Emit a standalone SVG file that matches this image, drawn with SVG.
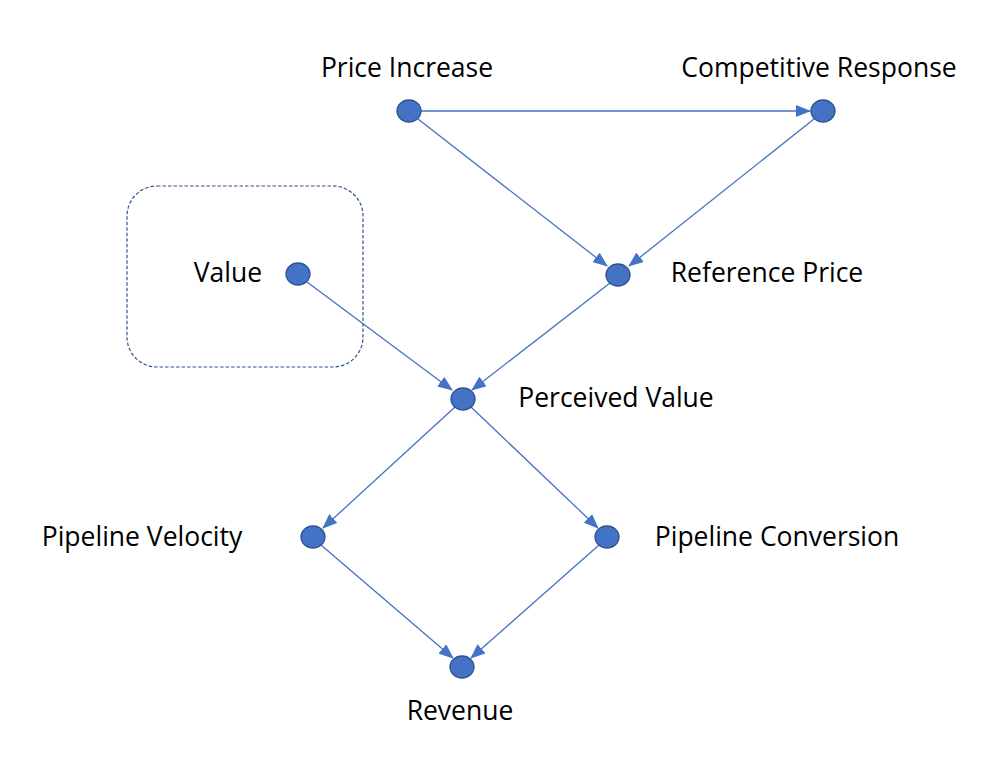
<svg xmlns="http://www.w3.org/2000/svg" width="1004" height="768" viewBox="0 0 1004 768">
<style>
.node{fill:#4472C4;stroke:#2F528F;stroke-width:1.3}
.lbl{font-family:"Open Sans","Liberation Sans",sans-serif;font-size:26.5px;fill:#000;text-anchor:middle}
.edge{stroke:#4472C4;stroke-width:1.3;fill:none;marker-end:url(#arr)}
</style>
<defs>
<marker id="arr" markerUnits="userSpaceOnUse" markerWidth="15" markerHeight="12" viewBox="0 0 15 12" refX="14" refY="6" orient="auto">
<path d="M0,0 L15,6 L0,12 Z" fill="#4472C4"/>
</marker>
</defs>
<rect width="1004" height="768" fill="#fff"/>
<rect id="value-group" x="127" y="186" width="236" height="181" rx="30" ry="30" fill="none" stroke="#2F528F" stroke-width="1.2" stroke-dasharray="3.5,2"/>
<g id="connectors">
<line class="edge" x1="421" y1="111" x2="810" y2="111"/>
<line class="edge" x1="418" y1="119" x2="607" y2="266"/>
<line class="edge" x1="814" y1="119" x2="629" y2="266"/>
<line class="edge" x1="307" y1="282" x2="452" y2="390"/>
<line class="edge" x1="610" y1="283" x2="472" y2="390"/>
<line class="edge" x1="455" y1="407" x2="323" y2="528"/>
<line class="edge" x1="471" y1="407" x2="598" y2="528"/>
<line class="edge" x1="321" y1="545" x2="453" y2="658"/>
<line class="edge" x1="599" y1="545" x2="471" y2="658"/>
</g>
<g id="price-increase"><ellipse class="node" cx="409" cy="111" rx="12" ry="11"/><text class="lbl" x="407" y="77">Price Increase</text></g>
<g id="competitive-response"><ellipse class="node" cx="823" cy="111" rx="12" ry="11"/><text class="lbl" x="819" y="77">Competitive Response</text></g>
<g id="value"><ellipse class="node" cx="298" cy="274" rx="12" ry="11"/><text class="lbl" x="228" y="282">Value</text></g>
<g id="reference-price"><ellipse class="node" cx="618" cy="275" rx="12" ry="11"/><text class="lbl" x="767" y="282">Reference Price</text></g>
<g id="perceived-value"><ellipse class="node" cx="463" cy="399" rx="12" ry="11"/><text class="lbl" x="616" y="407">Perceived Value</text></g>
<g id="pipeline-velocity"><ellipse class="node" cx="313" cy="537" rx="12" ry="11"/><text class="lbl" x="142" y="546">Pipeline Velocity</text></g>
<g id="pipeline-conversion"><ellipse class="node" cx="607" cy="537" rx="12" ry="11"/><text class="lbl" x="777" y="546">Pipeline Conversion</text></g>
<g id="revenue"><ellipse class="node" cx="462" cy="667" rx="12" ry="11"/><text class="lbl" x="460" y="720">Revenue</text></g>
</svg>
